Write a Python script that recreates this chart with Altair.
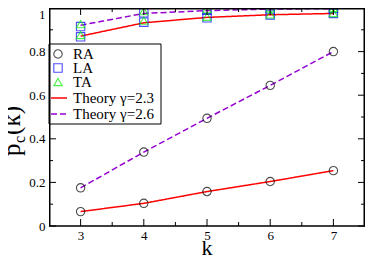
import altair as alt
import pandas as pd

k = [3, 4, 5, 6, 7]

# Theory curves
theory_23_low = [0.066, 0.104, 0.158, 0.204, 0.254]
theory_23_high = [0.871, 0.932, 0.957, 0.969, 0.975]
theory_26_low = [0.175, 0.339, 0.494, 0.645, 0.800]
theory_26_high = [0.921, 0.975, 0.988, 0.995, 0.997]

# Simulations
RA_23 = [0.066, 0.104, 0.158, 0.204, 0.254]
RA_26 = [0.175, 0.339, 0.494, 0.645, 0.800]
LA_23 = [0.868, 0.935, 0.955, 0.968, 0.975]
LA_26 = [0.915, 0.978, 0.990, 0.995, 0.998]
TA_23 = [0.876, 0.942, 0.960, 0.971, 0.977]
TA_26 = [0.926, 0.986, 0.995, 0.998, 1.000]

x_major = [3, 4, 5, 6, 7]
x_minor = [3.5, 4.5, 5.5, 6.5]
y_major = [0.0, 0.2, 0.4, 0.6, 0.8, 1.0]
y_minor = [0.1, 0.3, 0.5, 0.7, 0.9]

legend_labels = ["RA", "LA", "TA", "Theory γ=2.3", "Theory γ=2.6"]

W, H = 316, 218
SERIF = "Liberation Serif"

lines = []
for name, vals, g in [("a", theory_23_low, "2.3"), ("b", theory_23_high, "2.3"),
                      ("c", theory_26_low, "2.6"), ("d", theory_26_high, "2.6")]:
    for kk, v in zip(k, vals):
        lines.append({"k": kk, "p": v, "curve": name, "gamma": g})
lines_df = pd.DataFrame(lines)

pts = []
for series, groups in [("RA", [RA_23, RA_26]), ("LA", [LA_23, LA_26]), ("TA", [TA_23, TA_26])]:
    for vals in groups:
        for kk, v in zip(k, vals):
            pts.append({"k": kk, "p": v, "series": series})
pts_df = pd.DataFrame(pts)

xs = alt.Scale(domain=[2.5, 7.5], nice=False, zero=False)
ys = alt.Scale(domain=[0, 1], nice=False)

xaxis = alt.Axis(values=x_major, ticks=False, domain=False, grid=False, labelFont=SERIF,
                 labelFontSize=13, labelColor="black", labelPadding=3, format="d", title=None)
yaxis = alt.Axis(values=y_major, ticks=False, domain=False, grid=False, labelFont=SERIF,
                 labelFontSize=13, labelColor="black", labelPadding=4, format="~g", title=None,
                 labelBaseline={"condition": {"test": "datum.value == 1", "value": "top"},
                                "value": "middle"})

line_layer = alt.Chart(lines_df).mark_line(strokeWidth=1.5).encode(
    x=alt.X("k:Q", scale=xs, axis=xaxis),
    y=alt.Y("p:Q", scale=ys, axis=yaxis),
    detail="curve:N",
    color=alt.Color("gamma:N", scale=alt.Scale(domain=["2.3", "2.6"], range=["#ff0000", "#9400d3"]), legend=None),
    strokeDash=alt.StrokeDash("gamma:N", scale=alt.Scale(domain=["2.3", "2.6"], range=[[1, 0], [6, 3]]), legend=None),
)

shape_scale = alt.Scale(domain=["RA", "LA", "TA"], range=["circle", "square", "triangle-up"])
color_scale = alt.Scale(domain=["RA", "LA", "TA"], range=["black", "#0000ff", "#00ee00"])

pt_layer = alt.Chart(pts_df).mark_point(filled=False, size=70, strokeWidth=1.1, clip=False).encode(
    x=alt.X("k:Q", scale=xs),
    y=alt.Y("p:Q", scale=ys),
    shape=alt.Shape("series:N", scale=shape_scale, legend=None),
    color=alt.Color("series:N", scale=color_scale, legend=None),
)

# inward ticks
def xticks(vals, length, top):
    df = pd.DataFrame({"v": vals})
    yv, y2v = (0, length) if top else (H - length, H)
    return alt.Chart(df).mark_rule(color="black", strokeWidth=1).encode(
        x=alt.X("v:Q", scale=xs), y=alt.value(yv), y2=alt.value(y2v))

def yticks(vals, length, right):
    df = pd.DataFrame({"v": vals})
    xv, x2v = (W - length, W) if right else (0, length)
    return alt.Chart(df).mark_rule(color="black", strokeWidth=1).encode(
        y=alt.Y("v:Q", scale=ys), x=alt.value(xv), x2=alt.value(x2v))

tick_layers = [
    xticks(x_major, 7, False), xticks(x_minor, 4, False),
    xticks(x_major, 7, True), xticks(x_minor, 4, True),
    yticks(y_major, 7, False), yticks(y_minor, 4, False),
    yticks(y_major, 7, True), yticks(y_minor, 4, True),
]

# Frame
frame = alt.Chart(pd.DataFrame({"a": [0]})).mark_rect(
    fillOpacity=0, stroke="black", strokeWidth=1.5).encode(
    x=alt.value(0.75), x2=alt.value(W - 0.75), y=alt.value(0.75), y2=alt.value(H))

# Legend (manual)
LX0, LY0 = 0, 36
leg_box = alt.Chart(pd.DataFrame({"a": [0]})).mark_rect(
    fill="white", stroke="black", strokeWidth=1).encode(
    x=alt.value(LX0), x2=alt.value(LX0 + 112), y=alt.value(LY0), y2=alt.value(LY0 + 80))

row_y = [46, 60, 74, 90, 106]
leg_df = pd.DataFrame({"label": legend_labels, "ly": row_y,
                       "kind": ["RA", "LA", "TA", "2.3", "2.6"]})
leg_text = alt.Chart(leg_df).mark_text(align="left", baseline="middle", font=SERIF,
                                       fontSize=15, color="black").encode(
    x=alt.value(24), y=alt.Y("ly:Q", scale=None), text="label:N")

leg_pts = alt.Chart(leg_df.iloc[:3]).mark_point(filled=False, size=70, strokeWidth=1.1).encode(
    x=alt.value(9), y=alt.Y("ly:Q", scale=None),
    shape=alt.Shape("kind:N", scale=shape_scale, legend=None),
    color=alt.Color("kind:N", scale=color_scale, legend=None),
)
leg_l1 = alt.Chart(leg_df.iloc[3:4]).mark_rule(color="#ff0000", strokeWidth=1.5).encode(
    x=alt.value(2), x2=alt.value(18), y=alt.Y("ly:Q", scale=None))
leg_l2 = alt.Chart(leg_df.iloc[4:5]).mark_rule(color="#9400d3", strokeWidth=1.5, strokeDash=[6, 3]).encode(
    x=alt.value(2), x2=alt.value(18), y=alt.Y("ly:Q", scale=None))

# Axis titles
title_df = pd.DataFrame({"a": [0]})
ytitle_p = alt.Chart(title_df).mark_text(text="p", font=SERIF, fontSize=25, angle=270,
                                          align="left", baseline="alphabetic", color="black").encode(
    x=alt.value(-29), y=alt.value(148))
ytitle_c = alt.Chart(title_df).mark_text(text="c", font=SERIF, fontSize=16, angle=270,
                                          align="left", baseline="alphabetic", color="black").encode(
    x=alt.value(-24), y=alt.value(135))
ytitle_k = alt.Chart(title_df).mark_text(text="(k)", font=SERIF, fontSize=25, angle=270,
                                          align="left", baseline="alphabetic", color="black").encode(
    x=alt.value(-29), y=alt.value(127))
xtitle = alt.Chart(title_df).mark_text(text="k", font=SERIF, fontSize=22, align="center",
                                        baseline="alphabetic", color="black").encode(
    x=alt.value(W / 2), y=alt.value(H + 29))

chart = alt.layer(
    line_layer, pt_layer, *tick_layers, leg_box, leg_text, leg_pts, leg_l1, leg_l2,
    frame, ytitle_p, ytitle_c, ytitle_k, xtitle,
).resolve_scale(color="independent", shape="independent", strokeDash="independent").properties(
    width=W, height=H,
    autosize=alt.AutoSizeParams(type="none"),
    padding={"left": 41, "top": 0, "right": 1, "bottom": 31},
).configure_view(stroke=None)

chart.save("out.html", embed_options={"renderer": "svg", "actions": False})
